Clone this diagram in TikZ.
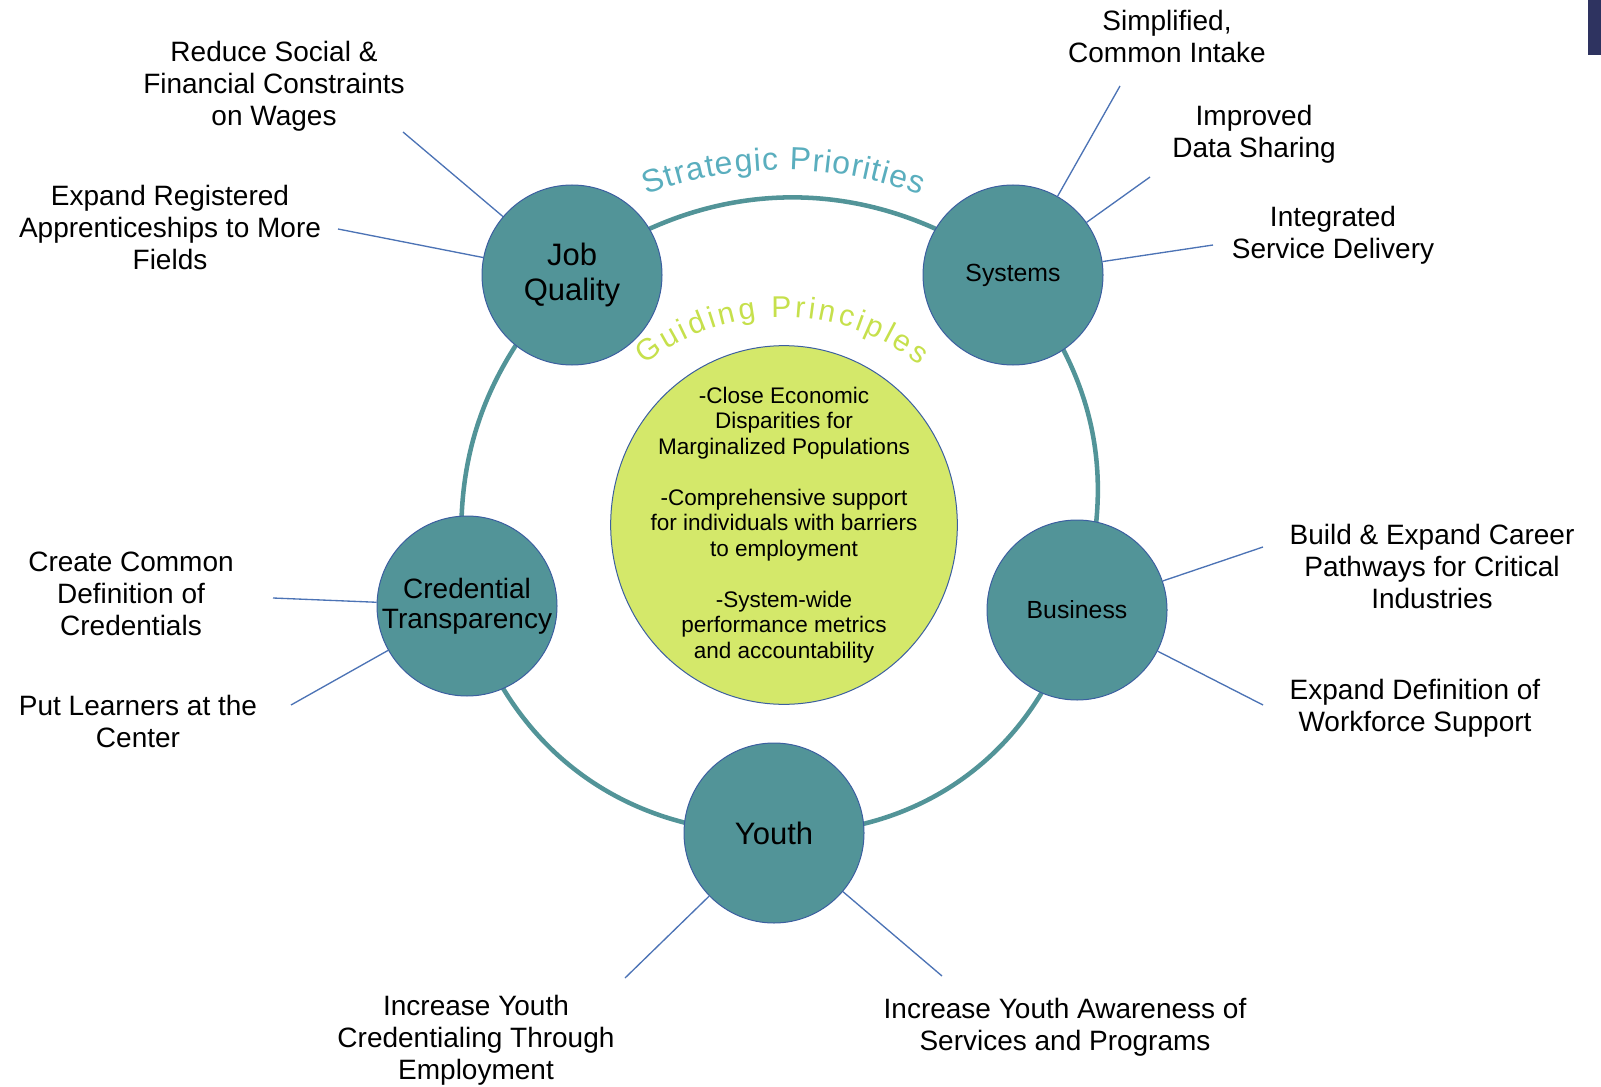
\documentclass[tikz,border=0pt]{standalone}
\usepackage{fontspec}
\setmainfont{Liberation Sans}
\usetikzlibrary{shapes.geometric,decorations.text,backgrounds}

\definecolor{hubteal}{RGB}{82,148,152}
\definecolor{hubedge}{RGB}{60,95,160}
\definecolor{corelime}{RGB}{212,232,106}
\definecolor{leaderblue}{RGB}{76,115,181}
\definecolor{stratcyan}{RGB}{90,174,190}
\definecolor{guidelime}{RGB}{198,224,76}
\definecolor{cornernavy}{RGB}{46,51,96}

\tikzset{every picture/.style={line width=0.75pt}}
\tikzset{
  hub/.style={circle,draw=hubedge,fill=hubteal,line width=0.75pt,minimum size=135pt,inner sep=0pt,align=center,text=black},
  core/.style={ellipse,draw=hubedge,fill=corelime,line width=0.75pt,minimum width=260pt,minimum height=269pt,inner sep=0pt},
  coretext/.style={align=center,inner sep=0pt,font=\fontsize{16.9}{19}\selectfont},
  goal/.style={align=center,inner sep=0pt,font=\fontsize{21}{24}\selectfont},
  leader/.style={draw=leaderblue,line width=1pt},
  ring/.style={draw=hubteal,line width=3.4pt},
}

\begin{document}
\begin{tikzpicture}[x=0.75pt,y=0.75pt,yscale=-1,xscale=1]
\useasboundingbox (0,0) rectangle (1601,1087);

%Shape: corner tab
\fill[cornernavy] (1588,0) rectangle (1601,55);

%Shape: priority hubs
\node[hub,font=\fontsize{23.25}{26.25}\selectfont] (jq) at (572,275) {Job\\Quality};
\node[hub,font=\fontsize{18.6}{21}\selectfont] (sys) at (1013,275) {Systems};
\node[hub,font=\fontsize{18.6}{21}\selectfont] (bus) at (1077,610) {Business};
\node[hub,font=\fontsize{23.25}{26}\selectfont] (yth) at (774,833) {Youth};
\node[hub,font=\fontsize{21}{22.5}\selectfont] (cred) at (467,606) {Credential\\Transparency};

%Shape: guiding principles disc
\node[core] (gp) at (784,525) {};
\node[coretext] (gptext) at (gp.center) {-Close Economic\\Disparities for\\Marginalized Populations\\[19.5pt]-Comprehensive support\\for individuals with barriers\\to employment\\[19.5pt]-System-wide\\performance metrics\\and accountability};

%Straight Lines: ring through the hubs
\begin{scope}[on background layer]
\draw[ring] (jq.center) to[bend right=37] (sys.center) to[bend right=29] (bus.center)
  to[bend right=38] (yth.center) to[bend right=37] (cred.center) to[bend right=26] (jq.center);
\end{scope}

% Curved titles
\path[decorate,decoration={text along path,text align=fit to path,text color=stratcyan,
  text={|\fontsize{24}{26}\selectfont|Strategic Priorities}}]
  (783.5,555) ++(-110.8:385) arc[start angle=-110.8,end angle=-69.2,radius=385];
\path[decorate,decoration={text along path,text align=fit to path,text color=guidelime,
  text={|\fontsize{22.5}{24}\selectfont|Guiding Principles}}]
  (782,538) ++(-128.5:221) arc[start angle=-128.5,end angle=-51.5,radius=221];

% Text Node
\node[goal] (wage) at (274,86) {Reduce Social \&\\Financial Constraints\\on Wages};
\node[goal] (appr) at (170,227) {Expand Registered\\Apprenticeships to More\\Fields};
\node[goal] (intake) at (1167,36) {Simplified,\\Common Intake};
\node[goal] (share) at (1254,134) {Improved\\Data Sharing};
\node[goal] (svc) at (1333,235) {Integrated\\Service Delivery};
\node[goal] (cdef) at (131,594) {Create Common\\Definition of\\Credentials};
\node[goal] (learn) at (138,721) {Put Learners at the\\Center};
\node[goal] (path) at (1432,566) {Build \& Expand Career\\Pathways for Critical\\Industries};
\node[goal] (wfs) at (1415,708) {Expand Definition of\\Workforce Support};
\node[goal] (ycred) at (476,1040) {Increase Youth\\Credentialing Through\\Employment};
\node[goal] (yaware) at (1065,1027) {Increase Youth Awareness of\\Services and Programs};

%Straight Lines: leaders
\coordinate (l-wage) at (403,132);
\coordinate (l-appr) at (338,229);
\coordinate (l-intake) at (1120,86);
\coordinate (l-share) at (1150,177);
\coordinate (l-svc) at (1213,245);
\coordinate (l-cdef) at (273,598);
\coordinate (l-learn) at (291,705);
\coordinate (l-path) at (1263,547);
\coordinate (l-wfs) at (1263,705);
\coordinate (l-ycred) at (625,978);
\coordinate (l-yaware) at (942,976);

\draw[leader] (l-wage) -- (jq);
\draw[leader] (l-appr) -- (jq);
\draw[leader] (l-intake) -- (sys);
\draw[leader] (l-share) -- (sys);
\draw[leader] (l-svc) -- (sys);
\draw[leader] (l-cdef) -- (cred);
\draw[leader] (l-learn) -- (cred);
\draw[leader] (l-path) -- (bus);
\draw[leader] (l-wfs) -- (bus);
\draw[leader] (l-ycred) -- (yth);
\draw[leader] (l-yaware) -- (yth);

\end{tikzpicture}
\end{document}
